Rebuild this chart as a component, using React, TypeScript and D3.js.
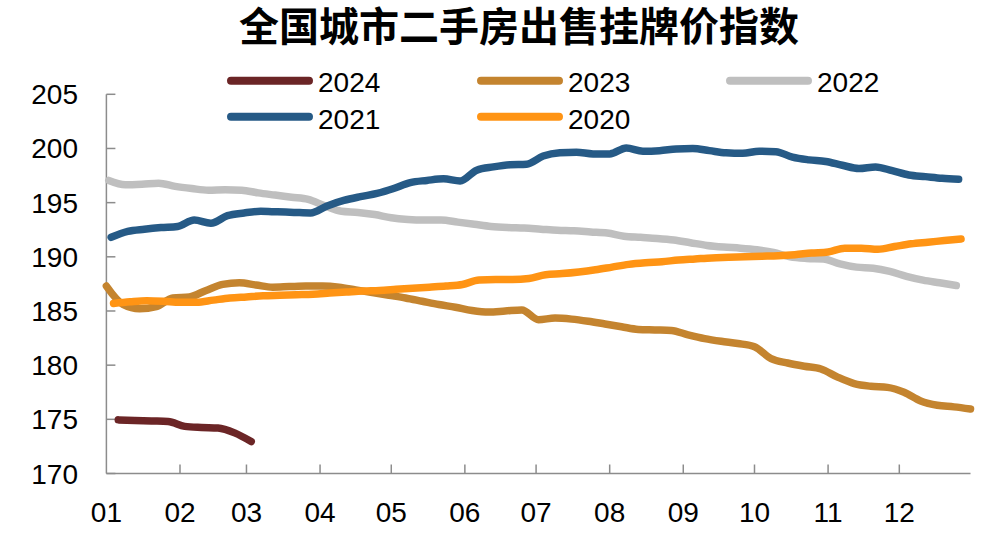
import React from 'react';
import * as d3 from 'd3';

// ---- data ----
const monthLabels = ['01', '02', '03', '04', '05', '06', '07', '08', '09', '10', '11', '12'];
const monthStartDays = [0, 31, 59, 90, 120, 151, 181, 212, 243, 273, 304, 334];
const yTicks = [170, 175, 180, 185, 190, 195, 200, 205];

const seriesNames = ['2024', '2023', '2022', '2021', '2020'];
// first observation day-of-year for each series (weekly data, 7 days apart)
const seriesStartDays = [5, 0, 1, 2, 3];

const values2024 = [174.95, 174.9, 174.85, 174.8, 174.35, 174.25, 174.2, 173.75, 172.95];

const values2023 = [
  187.3, 185.6, 185.2, 185.4, 186.2, 186.3, 186.9, 187.45, 187.6, 187.4,
  187.2, 187.25, 187.3, 187.3, 187.2, 186.95, 186.7, 186.45, 186.2, 185.9,
  185.6, 185.35, 185.05, 184.9, 185.0, 185.1, 184.2, 184.35, 184.25, 184.05,
  183.8, 183.55, 183.3, 183.25, 183.2, 182.8, 182.45, 182.2, 182.0, 181.7,
  180.6, 180.2, 179.9, 179.65, 178.9, 178.3, 178.05, 177.95, 177.5, 176.7,
  176.3, 176.15, 175.95,
];

const values2022 = [
  197.05, 196.65, 196.7, 196.8, 196.5, 196.3, 196.15, 196.2, 196.15, 195.9,
  195.7, 195.5, 195.3, 194.7, 194.2, 194.1, 193.9, 193.6, 193.45, 193.4,
  193.4, 193.2, 193.0, 192.8, 192.7, 192.65, 192.55, 192.45, 192.4, 192.3,
  192.2, 191.9, 191.8, 191.7, 191.55, 191.3, 191.05, 190.9, 190.8, 190.65,
  190.4, 190.0, 189.85, 189.8, 189.35, 189.05, 188.95, 188.65, 188.2, 187.85,
  187.6, 187.35,
];

const values2021 = [
  191.8, 192.35, 192.55, 192.7, 192.8, 193.4, 193.1, 193.8, 194.05, 194.2,
  194.15, 194.1, 194.05, 194.7, 195.2, 195.55, 195.85, 196.3, 196.85, 197.05,
  197.2, 197.0, 198.0, 198.3, 198.5, 198.55, 199.3, 199.6, 199.65, 199.5,
  199.5, 200.05, 199.75, 199.8, 199.95, 200.0, 199.8, 199.6, 199.55, 199.75,
  199.7, 199.2, 198.95, 198.8, 198.45, 198.15, 198.3, 197.95, 197.55, 197.4,
  197.25, 197.15,
];

const values2020 = [
  185.7, 185.85, 185.95, 185.9, 185.8, 185.8, 186.0, 186.2, 186.3, 186.4,
  186.45, 186.5, 186.55, 186.65, 186.75, 186.85, 186.9, 187.0, 187.1, 187.2,
  187.3, 187.45, 187.85, 187.9, 187.9, 188.0, 188.35, 188.45, 188.6, 188.8,
  189.05, 189.3, 189.45, 189.55, 189.7, 189.8, 189.9, 189.95, 190.0, 190.05,
  190.1, 190.2, 190.35, 190.45, 190.8, 190.8, 190.7, 190.95, 191.2, 191.35,
  191.5, 191.65,
];

const seriesValues = [values2024, values2023, values2022, values2021, values2020];
const seriesColors = ['#6B2526', '#C4842F', '#BFBFBF', '#265A86', '#FF9414'];

const titleText = '全国城市二手房出售挂牌价指数';

// ---- layout ----
const W = 990;
const H = 536;
const plotLeft = 106.4;
const plotRightFull = 972.9;
const plotTop = 94.3;
const plotBottom = 473.5;
const numFont = '"Liberation Sans", Arial, sans-serif';

export default function App() {
  const x = d3.scaleLinear().domain([0, 365]).range([plotLeft, plotRightFull]);
  const y = d3.scaleLinear().domain([170, 205]).range([plotBottom, plotTop]);
  const axisEnd = x(364);

  const line = d3
    .line<[number, number]>()
    .x((d) => x(d[0]))
    .y((d) => y(d[1]))
    .curve(d3.curveMonotoneX);

  const legendCols = [318, 568, 817];
  const legendRows = [{ lineY: 80.7, textY: 92 }, { lineY: 116.7, textY: 128.5 }];

  return (
    <svg
      width={W}
      height={H}
      style={{ position: 'absolute', left: 0, top: 0, background: '#fff' }}
    >
      <rect x={0} y={0} width={W} height={H} fill="#fff" />
      <text
        x={519}
        y={40.5}
        textAnchor="middle"
        fontFamily='"Noto Sans CJK SC", sans-serif'
        fontWeight={700}
        fontSize={40}
        fill="#000"
      >
        {titleText}
      </text>

      {/* axes */}
      <line x1={plotLeft} x2={plotLeft} y1={plotTop} y2={plotBottom} stroke="#8C8C8C" strokeWidth={1.5} />
      <line x1={plotLeft} x2={axisEnd} y1={plotBottom} y2={plotBottom} stroke="#8C8C8C" strokeWidth={1.5} />
      {yTicks.map((t) => (
        <g key={t}>
          <line x1={plotLeft} x2={plotLeft + 9} y1={y(t)} y2={y(t)} stroke="#8C8C8C" strokeWidth={1.5} />
          <text
            x={78}
            y={y(t) + 10}
            textAnchor="end"
            fontFamily={numFont}
            fontSize={28}
            fill="#000"
          >
            {t}
          </text>
        </g>
      ))}
      {monthStartDays.map((d, i) => (
        <g key={i}>
          {i > 0 && (
            <line x1={x(d)} x2={x(d)} y1={plotBottom} y2={plotBottom - 9} stroke="#8C8C8C" strokeWidth={1.5} />
          )}
          <text
            x={x(d)}
            y={522}
            textAnchor="middle"
            fontFamily={numFont}
            fontSize={28}
            fill="#000"
          >
            {monthLabels[i]}
          </text>
        </g>
      ))}

      {/* series */}
      {seriesValues.map((vals, si) => {
        const pts: [number, number][] = vals.map((v, k) => [seriesStartDays[si] + 7 * k, v]);
        return (
          <path
            key={seriesNames[si]}
            d={line(pts) || ''}
            fill="none"
            stroke={seriesColors[si]}
            strokeWidth={7.5}
            strokeLinecap="round"
            strokeLinejoin="round"
          />
        );
      })}

      {/* legend */}
      {seriesNames.map((name, i) => {
        const col = i < 3 ? i : i - 3;
        const row = i < 3 ? 0 : 1;
        const tx = legendCols[col];
        const r = legendRows[row];
        return (
          <g key={name}>
            <line
              x1={tx - 87}
              x2={tx - 9}
              y1={r.lineY}
              y2={r.lineY}
              stroke={seriesColors[i]}
              strokeWidth={8}
              strokeLinecap="round"
            />
            <text x={tx} y={r.textY} fontFamily={numFont} fontSize={28} fill="#000">
              {name}
            </text>
          </g>
        );
      })}
    </svg>
  );
}
